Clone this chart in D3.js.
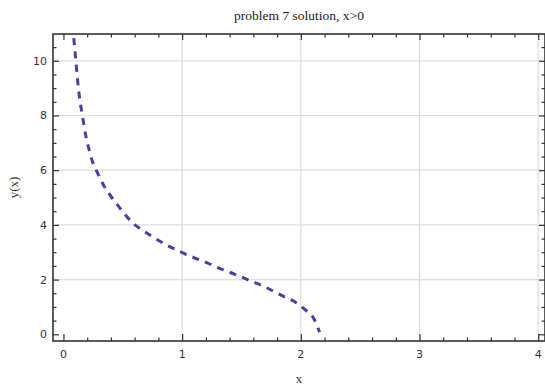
<!DOCTYPE html>
<html>
<head>
<meta charset="utf-8">
<script src="https://cdn.jsdelivr.net/npm/d3@7"></script>
<style>
  html, body { margin: 0; padding: 0; background: #fff; }
  svg { display: block; }
  .tick-label { font-family: "DejaVu Sans", Verdana, sans-serif; font-size: 11px; fill: #333; }
  .title { font-family: "Liberation Serif", "Times New Roman", serif; font-size: 13.5px; fill: #222; }
  .axis-label { font-family: "Liberation Serif", "Times New Roman", serif; font-size: 13px; fill: #333; }
</style>
</head>
<body>
<svg id="chart" width="545" height="386"></svg>
<script>
// solution curve
var curveX = [0.087, 0.104, 0.119, 0.138, 0.161, 0.176, 0.203, 0.245, 0.292, 0.337, 0.393, 0.455,
              0.511, 0.581, 0.665, 0.749, 0.833, 0.926, 1.015, 1.113, 1.206, 1.296, 1.394, 1.492,
              1.582, 1.680, 1.772, 1.862, 1.955, 2.033, 2.109, 2.158];
var curveY = [10.83, 10.03, 9.30, 8.57, 7.98, 7.55, 6.98, 6.31, 5.86, 5.46, 5.09, 4.73,
              4.42, 4.08, 3.81, 3.57, 3.35, 3.14, 2.96, 2.78, 2.62, 2.45, 2.28, 2.11,
              1.94, 1.77, 1.57, 1.37, 1.17, 0.91, 0.58, 0.08];

var xMajor = [0, 1, 2, 3, 4];
var yMajor = [0, 2, 4, 6, 8, 10];
var xGrid = [1, 2, 3, 4];
var yGrid = [2, 4, 6, 8, 10];
var titleText = "problem 7 solution, x>0";
var xLabel = "x";
var yLabel = "y(x)";

var W = 545, H = 386;
var L = 53, R = 545, T = 34, B = 341;

var x = d3.scaleLinear().domain([-0.088, 4.057]).range([L, R]);
var y = d3.scaleLinear().domain([-0.245, 10.98]).range([B, T]);

var svg = d3.select("#chart");

// grid
svg.append("g").selectAll("line").data(xGrid).enter().append("line")
  .attr("x1", function(d){ return x(d); }).attr("x2", function(d){ return x(d); })
  .attr("y1", T).attr("y2", B)
  .attr("stroke", "#dcdcdc").attr("stroke-width", 1.2);
svg.append("g").selectAll("line").data(yGrid).enter().append("line")
  .attr("y1", function(d){ return y(d); }).attr("y2", function(d){ return y(d); })
  .attr("x1", L).attr("x2", R)
  .attr("stroke", "#dcdcdc").attr("stroke-width", 1.2);

// curve
var pts = curveX.map(function(v, i){ return [v, curveY[i]]; });
var line = d3.line()
  .x(function(d){ return x(d[0]); })
  .y(function(d){ return y(d[1]); })
  .curve(d3.curveMonotoneX);
svg.append("path").datum(pts)
  .attr("d", line)
  .attr("fill", "none")
  .attr("stroke", "#4343a0")
  .attr("stroke-width", 3)
  .attr("stroke-dasharray", "7,6.4");

// frame axes: ticks inside on all sides
var xMinor = d3.range(0, 4.01, 0.2).filter(function(v){ return Math.abs(v - Math.round(v)) > 1e-6; });
var yMinor = d3.range(0, 11, 0.5).filter(function(v){ return Math.abs(v / 2 - Math.round(v / 2)) > 1e-6; });

var axBottom = d3.axisTop(x).tickValues(xMajor).tickSize(7).tickFormat("");
var axTop = d3.axisBottom(x).tickValues(xMajor).tickSize(6).tickFormat("");
var axLeft = d3.axisRight(y).tickValues(yMajor).tickSize(6).tickFormat("");
var axRight = d3.axisLeft(y).tickValues(yMajor).tickSize(6).tickFormat("");

function frameAxis(axis, tx, ty, minor, minorAxis) {
  var g = svg.append("g").attr("transform", "translate(" + tx + "," + ty + ")").call(axis);
  var gm = svg.append("g").attr("transform", "translate(" + tx + "," + ty + ")").call(minorAxis.tickValues(minor).tickSize(3.5).tickFormat(""));
  [g, gm].forEach(function(s){
    s.select(".domain").remove();
    s.selectAll("line").attr("stroke", "#333").attr("stroke-width", 1.2);
  });
}
frameAxis(axBottom, 0, B, xMinor, d3.axisTop(x));
frameAxis(axTop, 0, T, xMinor, d3.axisBottom(x));
frameAxis(axLeft, L, 0, yMinor, d3.axisRight(y));
frameAxis(axRight, R, 0, yMinor, d3.axisLeft(y));

svg.append("rect")
  .attr("x", L).attr("y", T).attr("width", R - L).attr("height", B - T)
  .attr("fill", "none").attr("stroke", "#333").attr("stroke-width", 1.6);

// tick labels
svg.append("g").selectAll("text").data(xMajor).enter().append("text")
  .attr("class", "tick-label")
  .attr("x", function(d){ return x(d); })
  .attr("y", 358)
  .attr("text-anchor", "middle")
  .text(function(d){ return d; });
svg.append("g").selectAll("text").data(yMajor).enter().append("text")
  .attr("class", "tick-label")
  .attr("x", 47)
  .attr("y", function(d){ return y(d); })
  .attr("dy", "0.36em")
  .attr("text-anchor", "end")
  .text(function(d){ return d; });

// title and axis labels
svg.append("text").attr("class", "title")
  .attr("x", (L + R) / 2).attr("y", 20)
  .attr("text-anchor", "middle")
  .text(titleText);
svg.append("text").attr("class", "axis-label")
  .attr("x", (L + R) / 2).attr("y", 383)
  .attr("text-anchor", "middle")
  .text(xLabel);
svg.append("text").attr("class", "axis-label")
  .attr("transform", "translate(18," + ((T + B) / 2) + ") rotate(-90)")
  .attr("text-anchor", "middle")
  .text(yLabel);
</script>
</body>
</html>
